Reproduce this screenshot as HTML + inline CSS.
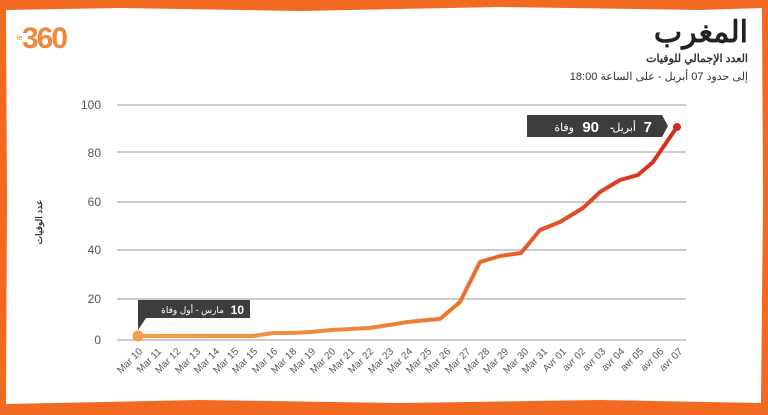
<!DOCTYPE html>
<html><head><meta charset="utf-8"><style>
html,body{margin:0;padding:0}
body{width:768px;height:415px;background:#f26a21;overflow:hidden;position:relative;font-family:"Liberation Sans","Noto Sans CJK SC",sans-serif}
</style></head><body>
<svg width="768" height="415" style="position:absolute;left:0;top:0">
<defs><linearGradient id="g" x1="0" x2="1" y1="0" y2="0" gradientUnits="objectBoundingBox">
<stop offset="0" stop-color="#f7a04a"/><stop offset="0.55" stop-color="#ee7a30"/><stop offset="1" stop-color="#d42a1f"/></linearGradient></defs>
<path d="M6 10 L120 8 L300 11 L500 7 L700 10 L762 8 L763 200 L761 403 L600 400 L400 403 L200 400 L6 404 L7 200 Z" fill="#fff"/>
<text x="22" y="48" font-size="30" font-weight="bold" fill="#f0883a" letter-spacing="-2">360</text>
<text x="17" y="40" font-size="7" fill="#f0883a">le</text>
<text x="748" y="42" font-size="30" font-weight="bold" text-anchor="end" fill="#222">المغرب</text>
<text x="748" y="62" font-size="11" font-weight="bold" text-anchor="end" fill="#333">العدد الإجمالي للوفيات</text>
<text x="748" y="80" font-size="11" text-anchor="end" fill="#333">إلى حدود 07 أبريل - على الساعة 18:00</text>
<g stroke="#bbb" stroke-width="1.5">
<line x1="117" x2="686" y1="105" y2="105"/><line x1="117" x2="686" y1="152" y2="152"/>
<line x1="117" x2="686" y1="202" y2="202"/><line x1="117" x2="686" y1="250" y2="250"/>
<line x1="117" x2="686" y1="299" y2="299"/><line x1="117" x2="686" y1="340" y2="340"/></g>
<g font-size="12" fill="#555" text-anchor="end">
<text x="101" y="109">100</text><text x="101" y="157">80</text><text x="101" y="206">60</text>
<text x="101" y="254">40</text><text x="101" y="303">20</text><text x="101" y="344">0</text></g>
<text transform="translate(42,222) rotate(-90)" font-size="9" font-weight="bold" text-anchor="middle" fill="#333">عدد الوفيات</text>
<polyline fill="none" stroke="url(#g)" stroke-width="4" stroke-linejoin="round" points="138,336 157,336 176,336 196,336 215,336 234,336 253,336 273,333 292,333 311,332 331,330 350,329 369,328 389,325 408,322 427,320 440,319 460,302 480,262 500,256 521,253 540,230 560,222 583,208 600,192 620,180 638,175 653,162 677,127"/>
<circle cx="138" cy="336" r="5.5" fill="#f7a04a"/>
<circle cx="677" cy="127" r="4" fill="#d42a1f"/>
<path d="M138 300 H250 V318 H146 L138 330 Z" fill="#3d3d3d"/>
<text x="244" y="314" font-size="12" font-weight="bold" fill="#fff" text-anchor="end">10</text>
<text x="224" y="313" font-size="9" fill="#fff" text-anchor="end">مارس - أول وفاة</text>
<path d="M527 115 H662 L668 126 L662 137 H527 Z" fill="#3d3d3d"/>
<text x="652" y="132" font-size="15" font-weight="bold" fill="#fff" text-anchor="end">7</text>
<text x="636" y="131" font-size="11" fill="#fff" text-anchor="end">أبريل</text>
<text x="612" y="131" font-size="11" font-weight="bold" fill="#fff" text-anchor="middle">-</text>
<text x="599" y="132" font-size="15" font-weight="bold" fill="#fff" text-anchor="end">90</text>
<text x="574" y="131" font-size="11" fill="#fff" text-anchor="end">وفاة</text>
<g font-size="10" fill="#555" text-anchor="end">
<text transform="translate(143,352) rotate(-45)">Mar 10</text>
<text transform="translate(162,352) rotate(-45)">Mar 11</text>
<text transform="translate(181,352) rotate(-45)">Mar 12</text>
<text transform="translate(201,352) rotate(-45)">Mar 13</text>
<text transform="translate(220,352) rotate(-45)">Mar 14</text>
<text transform="translate(239,352) rotate(-45)">Mar 15</text>
<text transform="translate(258,352) rotate(-45)">Mar 15</text>
<text transform="translate(278,352) rotate(-45)">Mar 16</text>
<text transform="translate(297,352) rotate(-45)">Mar 18</text>
<text transform="translate(316,352) rotate(-45)">Mar 19</text>
<text transform="translate(336,352) rotate(-45)">Mar 20</text>
<text transform="translate(355,352) rotate(-45)">Mar 21</text>
<text transform="translate(374,352) rotate(-45)">Mar 22</text>
<text transform="translate(394,352) rotate(-45)">Mar 23</text>
<text transform="translate(413,352) rotate(-45)">Mar 24</text>
<text transform="translate(432,352) rotate(-45)">Mar 25</text>
<text transform="translate(451,352) rotate(-45)">Mar 26</text>
<text transform="translate(471,352) rotate(-45)">Mar 27</text>
<text transform="translate(490,352) rotate(-45)">Mar 28</text>
<text transform="translate(509,352) rotate(-45)">Mar 29</text>
<text transform="translate(529,352) rotate(-45)">Mar 30</text>
<text transform="translate(548,352) rotate(-45)">Mar 31</text>
<text transform="translate(567,352) rotate(-45)">Avr 01</text>
<text transform="translate(586,352) rotate(-45)">avr 02</text>
<text transform="translate(606,352) rotate(-45)">avr 03</text>
<text transform="translate(625,352) rotate(-45)">avr 04</text>
<text transform="translate(644,352) rotate(-45)">avr 05</text>
<text transform="translate(664,352) rotate(-45)">avr 06</text>
<text transform="translate(683,352) rotate(-45)">avr 07</text>
</g>
</svg>
</body></html>
